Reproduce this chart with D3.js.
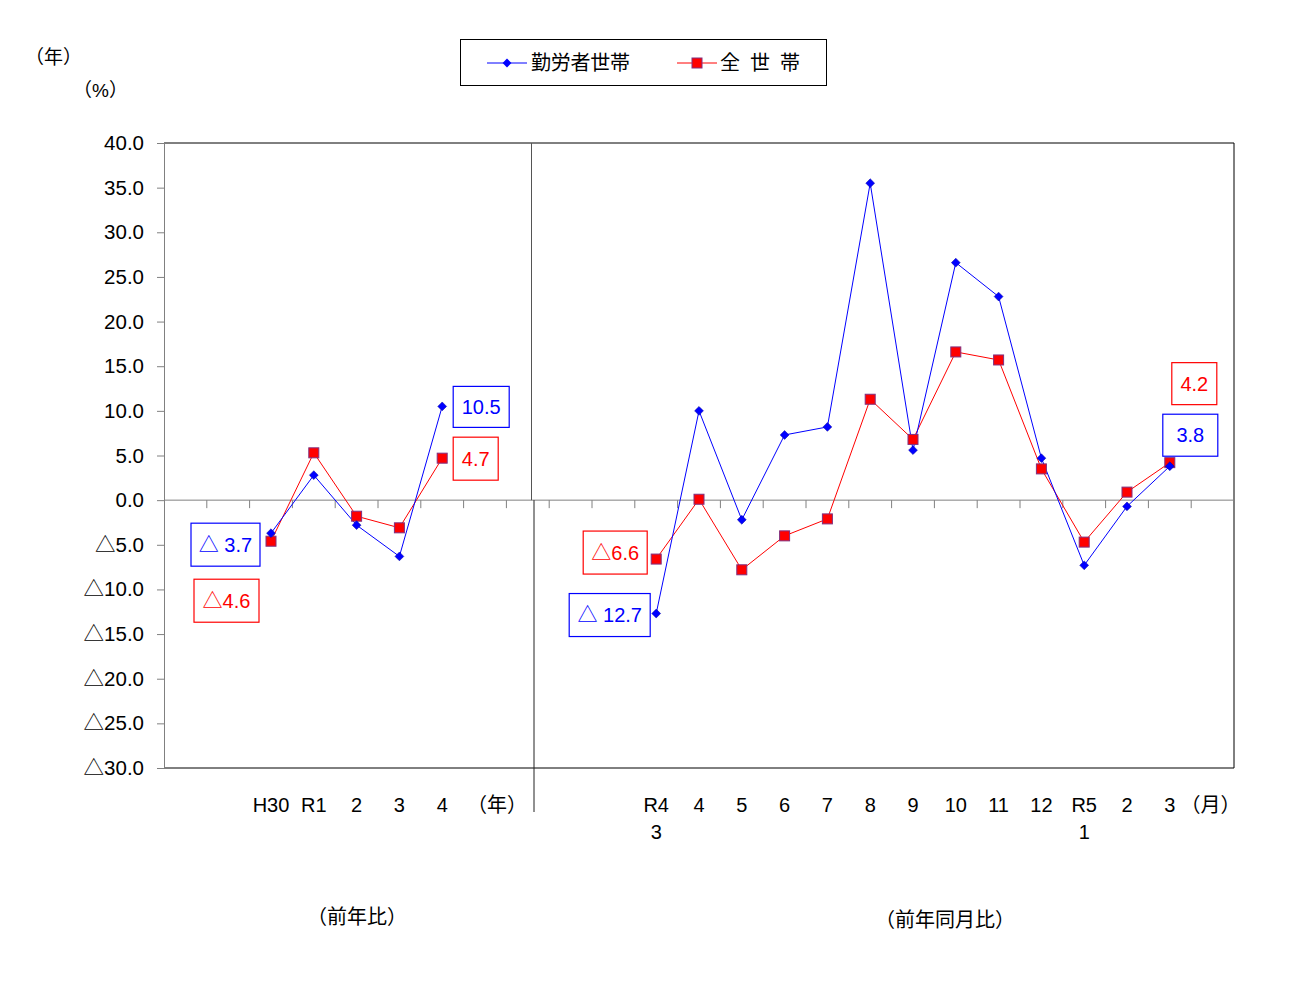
<!DOCTYPE html>
<html><head><meta charset="utf-8">
<script src="https://cdn.jsdelivr.net/npm/d3@7/dist/d3.min.js"></script>
<style>body{margin:0;background:#fff}svg{display:block}text{font-family:"Liberation Sans","Noto Sans CJK JP",sans-serif}</style>
</head><body>
<script>
// slots along the x axis (25 equal slots)
const slots = ["s0","s1","H30","R1","Y2","Y3","Y4","yen","s8","s9","s10","M3","M4","M5","M6","M7","M8","M9","M10","M11","M12","M1","M2b","M3b","tsuki"];
const slotLabels = ["","","H30","R1","2","3","4","（年）","","","","R4|3","4","5","6","7","8","9","10","11","12","R5|1","2","3","（月）"];
const yearSlots = ["H30","R1","Y2","Y3","Y4"];
const monthSlots = ["M3","M4","M5","M6","M7","M8","M9","M10","M11","M12","M1","M2b","M3b"];
const blueYear = [-3.7, 2.8, -2.8, -6.3, 10.5];
const redYear = [-4.6, 5.3, -1.8, -3.1, 4.7];
const blueMonth = [-12.7, 10.0, -2.2, 7.3, 8.2, 35.5, 5.6, 26.6, 22.8, 4.7, -7.3, -0.7, 3.8];
const redMonth = [-6.6, 0.1, -7.8, -4.0, -2.1, 11.3, 6.8, 16.6, 15.7, 3.5, -4.7, 0.9, 4.2];
const yTicks = [40,35,30,25,20,15,10,5,0,-5,-10,-15,-20,-25,-30];
const seriesNames = ["勤労者世帯","全 世 帯"];
// annotation labels: [slot, text, series]
const notes = [
  ["Y4","10.5","b"],["Y4","4.7","r"],["H30","△ 3.7","b"],["H30","△4.6","r"],
  ["M3","△6.6","r"],["M3","△ 12.7","b"],["M3b","4.2","r"],["M3b","3.8","b"]
];

const W=1307,H=981;
const L=164,R=1234,T=143,B=768;
const svg=d3.select("body").append("svg").attr("width",W).attr("height",H);
const x=d3.scaleBand().domain(slots).range([L,R]).padding(0);
const y=d3.scaleLinear().domain([-30,40]).range([B,T]);
const cx=s=>x(s)+x.bandwidth()/2;
const BLUE="#0000ff",RED="#ff0000";

// frame
svg.append("line").attr("x1",L).attr("x2",R).attr("y1",T).attr("y2",T).attr("stroke","#000");
svg.append("line").attr("x1",R).attr("x2",R).attr("y1",T).attr("y2",B).attr("stroke","#000");
svg.append("line").attr("x1",L).attr("x2",R).attr("y1",B).attr("y2",B).attr("stroke","#000");

// y axis
const yAxis=d3.axisLeft(y).tickValues(yTicks).tickSize(7).tickPadding(13)
  .tickFormat(v=>v<0?"△"+Math.abs(v).toFixed(1):v.toFixed(1));
const ya=svg.append("g").attr("transform",`translate(${L},0)`).call(yAxis);
ya.select(".domain").attr("stroke","#808080");
ya.selectAll(".tick line").attr("stroke","#808080");
ya.selectAll(".tick text").attr("font-size",20.5).attr("fill","#000");

// zero line with ticks at slot boundaries
svg.append("line").attr("x1",L).attr("x2",R).attr("y1",y(0)).attr("y2",y(0)).attr("stroke","#808080");
svg.selectAll(".zt").data(slots.slice(1)).enter().append("line")
  .attr("x1",d=>x(d)).attr("x2",d=>x(d)).attr("y1",y(0)).attr("y2",y(0)+8).attr("stroke","#808080");

// divider
svg.append("line").attr("x1",531.5).attr("x2",531.5).attr("y1",T).attr("y2",y(0)).attr("stroke","#555");
svg.append("line").attr("x1",534).attr("x2",534).attr("y1",y(0)).attr("y2",812).attr("stroke","#222");

// x labels
slotLabels.forEach((lab,i)=>{
  if(!lab) return;
  const parts=lab.split("|");
  let px=cx(slots[i]);
  if(lab==="（年）") px+=12;
  if(lab==="（月）") px-=2;
  parts.forEach((p,j)=>{
    svg.append("text").attr("x",px).attr("y",812+j*27).attr("text-anchor","middle")
      .attr("font-size",20).text(p);
  });
});

// lines
const line=d3.line().x(d=>cx(d[0])).y(d=>y(d[1]));
function drawSeries(keys,vals,color){
  const pts=keys.map((k,i)=>[k,vals[i]]);
  svg.append("path").attr("d",line(pts)).attr("fill","none").attr("stroke",color).attr("stroke-width",1);
  return pts;
}
const rp=[...drawSeries(yearSlots,redYear,RED),...drawSeries(monthSlots,redMonth,RED)];
const bp=[...drawSeries(yearSlots,blueYear,BLUE),...drawSeries(monthSlots,blueMonth,BLUE)];
svg.selectAll(".rm").data(rp).enter().append("rect")
  .attr("x",d=>cx(d[0])-5).attr("y",d=>y(d[1])-5).attr("width",10).attr("height",10)
  .attr("fill",RED).attr("stroke","#80307f").attr("stroke-width",1);
const diamond=d3.symbol().type(d3.symbolDiamond2).size(50);
svg.selectAll(".bm").data(bp).enter().append("path")
  .attr("d",diamond).attr("transform",d=>`translate(${cx(d[0])},${y(d[1])})`)
  .attr("fill",BLUE).attr("stroke","#0000a0").attr("stroke-width",0.5);

// annotation boxes (positions relative to data point)
const noteBox={
  "10.5":[11,-20,56,41],"4.7":[11,-21,45,43],"△ 3.7":[-80,-10,69,43],"△4.6":[-77,38,65,43],
  "△6.6":[-73,-28,64,43],"△ 12.7":[-87,-20,81,43],"4.2":[2,-100,45,42],"3.8":[-7,-52,55,42]
};
notes.forEach(([slot,txt,s])=>{
  const vals = s==="b"?(yearSlots.includes(slot)?blueYear[yearSlots.indexOf(slot)]:blueMonth[monthSlots.indexOf(slot)])
                     :(yearSlots.includes(slot)?redYear[yearSlots.indexOf(slot)]:redMonth[monthSlots.indexOf(slot)]);
  const px=cx(slot),py=y(vals);
  const [dx,dy,w,h]=noteBox[txt];
  const col=s==="b"?BLUE:RED;
  svg.append("rect").attr("x",px+dx).attr("y",py+dy).attr("width",w).attr("height",h)
    .attr("fill","#fff").attr("stroke",col).attr("stroke-width",1.2);
  svg.append("text").attr("x",px+dx+w/2).attr("y",py+dy+h/2+7).attr("text-anchor","middle")
    .attr("font-size",20).attr("fill",col).text(txt);
});

// legend
const lg=svg.append("g");
lg.append("rect").attr("x",460.5).attr("y",39.5).attr("width",366).attr("height",46).attr("fill","#fff").attr("stroke","#000");
lg.append("line").attr("x1",487).attr("x2",527).attr("y1",63).attr("y2",63).attr("stroke",BLUE);
lg.append("path").attr("d",diamond).attr("transform","translate(507,63)").attr("fill",BLUE);
lg.append("text").attr("x",531).attr("y",70).attr("font-size",20).attr("textLength",99).text(seriesNames[0]);
lg.append("line").attr("x1",677).attr("x2",717).attr("y1",63).attr("y2",63).attr("stroke",RED);
lg.append("rect").attr("x",692).attr("y",58).attr("width",10).attr("height",10).attr("fill",RED).attr("stroke","#80307f");
lg.append("text").attr("x",720).attr("y",70).attr("font-size",20).attr("textLength",80).attr("lengthAdjust","spacing").text(seriesNames[1]);

// unit labels
svg.append("text").attr("x",25).attr("y",64).attr("font-size",19).text("（年）");
svg.append("text").attr("x",73).attr("y",97).attr("font-size",19).text("（%）");
svg.append("text").attr("x",357).attr("y",924).attr("text-anchor","middle").attr("font-size",20).text("（前年比）");
svg.append("text").attr("x",945).attr("y",927).attr("text-anchor","middle").attr("font-size",20).text("（前年同月比）");
</script>
</body></html>
